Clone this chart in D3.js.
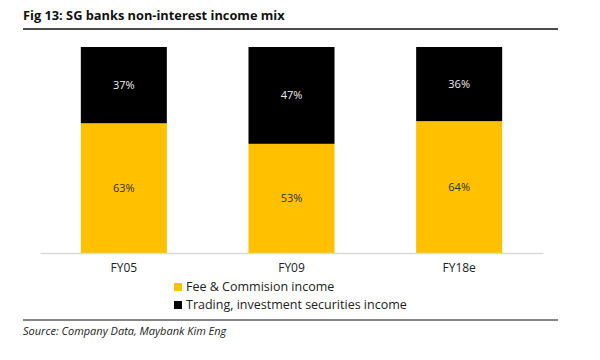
<!DOCTYPE html>
<html><head><meta charset="utf-8">
<script src="https://cdn.jsdelivr.net/npm/d3@7"></script>
<style>body{margin:0;background:#fff}svg{display:block}</style>
</head><body>
<svg id="c" width="600" height="360"></svg>
<script>
const categories = ["FY05", "FY09", "FY18e"];
const feeValues = [63, 53, 64];
const tradingValues = [37, 47, 36];
const seriesNames = ["Fee & Commision income", "Trading, investment securities income"];
const seriesColors = ["#FFC000", "#000000"];
const titleText = "Fig 13: SG banks non-interest income mix";
const sourceText = "Source: Company Data, Maybank Kim Eng";

const svg = d3.select("#c");
const font = "'Open Sans', 'DejaVu Sans', sans-serif";

svg.append("text").attr("x", 23).attr("y", 20).attr("font-family", font)
  .attr("font-weight", "bold").attr("font-size", 12.8).attr("fill", "#111").text(titleText);
svg.append("line").attr("x1", 23).attr("x2", 558).attr("y1", 29).attr("y2", 29)
  .attr("stroke", "#111").attr("stroke-width", 1.5);

const x = d3.scaleBand().domain(categories).range([40, 543]).paddingInner(0.487).paddingOuter(0.2435);
const y = d3.scaleLinear().domain([0, 100]).range([253, 47]);

const data = categories.map((c, i) => ({cat: c, fee: feeValues[i], trading: tradingValues[i]}));
const stack = d3.stack().keys(["fee", "trading"])(data);

const g = svg.append("g");
stack.forEach((s, si) => {
  g.selectAll(null).data(s).enter().append("rect")
    .attr("x", d => x(d.data.cat)).attr("width", x.bandwidth())
    .attr("y", d => y(d[1])).attr("height", d => y(d[0]) - y(d[1]))
    .attr("fill", seriesColors[si]);
  g.selectAll(null).data(s).enter().append("text")
    .attr("x", d => x(d.data.cat) + x.bandwidth() / 2)
    .attr("y", d => (y(d[0]) + y(d[1])) / 2 + 4)
    .attr("text-anchor", "middle").attr("font-family", font).attr("font-size", 11)
    .attr("fill", si === 0 ? "#333" : "#eee")
    .text(d => (d[1] - d[0]) + "%");
});

const axis = svg.append("g").attr("transform", "translate(0,253)")
  .call(d3.axisBottom(x).tickSize(0).tickPadding(10));
axis.select(".domain").attr("stroke", "#d9d9d9").attr("stroke-width", 1.5);
axis.selectAll("text").attr("font-family", font).attr("font-size", 12).attr("fill", "#222");

const leg = svg.append("g");
seriesNames.forEach((n, i) => {
  const ly = 287 + i * 18;
  leg.append("rect").attr("x", 174).attr("y", ly - 4).attr("width", 8).attr("height", 8).attr("fill", seriesColors[i]);
  leg.append("text").attr("x", 186).attr("y", ly + 4).attr("font-family", font).attr("font-size", 12.5)
    .attr("fill", "#222").text(n);
});

svg.append("line").attr("x1", 23).attr("x2", 558).attr("y1", 320).attr("y2", 320)
  .attr("stroke", "#111").attr("stroke-width", 1);
svg.append("text").attr("x", 23).attr("y", 335).attr("font-family", font).attr("font-style", "italic")
  .attr("font-size", 11).attr("fill", "#222").text(sourceText);
</script>
</body></html>
